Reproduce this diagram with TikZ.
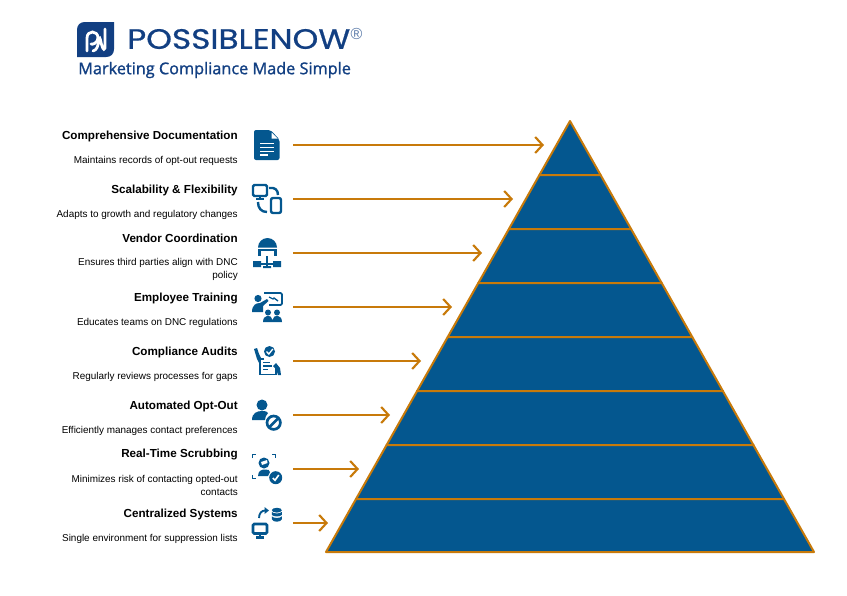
\documentclass[tikz,border=0pt]{standalone}
\usepackage{fontspec}
\setmainfont{Liberation Sans}
\newfontfamily\logofont[FakeBold=0.6]{Poppins}
\newfontfamily\tagfont[FakeBold=1.3]{Open Sans}
\usetikzlibrary{arrows.meta}
\definecolor{tierblue}{HTML}{04578F}
\definecolor{tierorange}{HTML}{C87A0A}
\definecolor{logoblue}{HTML}{123F82}
\tikzset{
  title/.style={anchor=east,inner sep=0pt,font=\fontsize{8.75}{11}\selectfont\bfseries},
  desc/.style={anchor=east,inner sep=0pt,align=right,font=\fontsize{7.45}{9.75}\selectfont},
  tier/.style={fill=tierblue,draw=tierorange,line width=1.5pt,line join=round},
  pointer/.style={draw=tierorange,line width=1.6pt,-{Straight Barb[length=5.5pt,width=12pt,line width=1.6pt]}},
  ink/.style={fill=tierblue,draw=none},
  inkline/.style={draw=tierblue,line width=1.8pt,fill=none},
  paper/.style={draw=white,line width=1.1pt}
}
\begin{document}
\begin{tikzpicture}[x=0.75pt,y=-0.75pt]
\useasboundingbox (0,0) rectangle (847,596);
% logo
\fill[logoblue] (77,30) .. controls (77,25) and (80,22) .. (85,22) -- (114,22) -- (114,49) .. controls (114,54) and (111,57) .. (106,57) -- (77,57) -- cycle;
\draw[white,line width=2.1pt,line cap=round] (87,51) -- (87,38) .. controls (87,30) and (98,30) .. (98,38) .. controls (98,43) and (92,45) .. (91,44);
\draw[white,line width=2.1pt,line cap=round] (93,51) .. controls (97,50) and (98,46) .. (99,40) .. controls (100,34) and (101,44) .. (102,46) .. controls (103,50) and (105,50) .. (105,48) -- (105,29);
\node[anchor=west,inner sep=0pt,text=logoblue,font=\logofont\fontsize{21}{21}\selectfont] (brand) at (127,39) {\scalebox{1.17}[1]{POSSIBLENOW}};
\node[inner sep=0pt,text=logoblue!70,font=\fontsize{12}{12}\selectfont] (reg) at (356.5,34) {®};
\node[anchor=west,inner sep=0pt,text=logoblue,font=\tagfont\fontsize{12.2}{12}\selectfont] (tagline) at (78,70) {Marketing Compliance Made Simple};
% pyramid
\draw[tier] (570,121) -- (600.6,175) -- (539.4,175) -- cycle;
\draw[tier] (539.4,175) -- (600.6,175) -- (631.1,229) -- (508.9,229) -- cycle;
\draw[tier] (508.9,229) -- (631.1,229) -- (661.7,283) -- (478.3,283) -- cycle;
\draw[tier] (478.3,283) -- (661.7,283) -- (692.3,337) -- (447.7,337) -- cycle;
\draw[tier] (447.7,337) -- (692.3,337) -- (722.9,391) -- (417.1,391) -- cycle;
\draw[tier] (417.1,391) -- (722.9,391) -- (753.4,445) -- (386.6,445) -- cycle;
\draw[tier] (386.6,445) -- (753.4,445) -- (784,499) -- (356,499) -- cycle;
\draw[tier] (356,499) -- (784,499) -- (814,552) -- (326,552) -- cycle;
% labels
\node[title] (docT) at (238,136.5) {Comprehensive Documentation};
\node[desc] (docD) at (238,161) {Maintains records of opt-out requests};
\node[title] (scaleT) at (238,190.5) {Scalability \& Flexibility};
\node[desc] (scaleD) at (238,215) {Adapts to growth and regulatory changes};
\node[title] (vendorT) at (238,238.5) {Vendor Coordination};
\node[desc] (vendorD) at (238,269) {Ensures third parties align with DNC\\policy};
\node[title] (trainT) at (238,298.5) {Employee Training};
\node[desc] (trainD) at (238,323) {Educates teams on DNC regulations};
\node[title] (auditT) at (238,352.5) {Compliance Audits};
\node[desc] (auditD) at (238,377) {Regularly reviews processes for gaps};
\node[title] (optT) at (238,406.5) {Automated Opt-Out};
\node[desc] (optD) at (238,431) {Efficiently manages contact preferences};
\node[title] (scrubT) at (238,454.5) {Real-Time Scrubbing};
\node[desc] (scrubD) at (238,485) {Minimizes risk of contacting opted-out\\contacts};
\node[title] (sysT) at (238,514.5) {Centralized Systems};
\node[desc] (sysD) at (238,539) {Single environment for suppression lists};
% arrows
\coordinate (docA) at (293,145);
\coordinate (docB) at (544,145);
\coordinate (scaleA) at (293,199);
\coordinate (scaleB) at (513,199);
\coordinate (vendorA) at (293,253);
\coordinate (vendorB) at (482,253);
\coordinate (trainA) at (293,307);
\coordinate (trainB) at (452,307);
\coordinate (auditA) at (293,361);
\coordinate (auditB) at (421,361);
\coordinate (optA) at (293,415);
\coordinate (optB) at (390,415);
\coordinate (scrubA) at (293,469);
\coordinate (scrubB) at (359,469);
\coordinate (sysA) at (293,523);
\coordinate (sysB) at (328,523);
\draw[pointer] (docA) -- (docB);
\draw[pointer] (scaleA) -- (scaleB);
\draw[pointer] (vendorA) -- (vendorB);
\draw[pointer] (trainA) -- (trainB);
\draw[pointer] (auditA) -- (auditB);
\draw[pointer] (optA) -- (optB);
\draw[pointer] (scrubA) -- (scrubB);
\draw[pointer] (sysA) -- (sysB);
% document icon
\fill[ink,rounded corners=1.5pt] (254,130) -- (270.5,130) -- (279.5,139.5) -- (279.5,160) -- (254,160) -- cycle;
\fill[white] (271.5,132.5) -- (271.5,138.5) -- (277.5,138.5) -- cycle;
\draw[paper] (260,143.5) -- (274,143.5) (260,147.5) -- (274,147.5) (260,151.5) -- (274,151.5) (260,155) -- (268,155);
% devices icon
\draw[inkline,rounded corners=1pt] (253,185) rectangle (267,196);
\draw[inkline] (260,196) -- (260,199) (256,199) -- (264,199);
\draw[inkline,rounded corners=1.5pt] (271,198) rectangle (281,213);
\draw[inkline] (269,188) .. controls (275,187) and (278,190) .. (278,195);
\draw[inkline] (258,202) .. controls (258,208) and (261,212) .. (267,212);
% vendor icon
\fill[ink] (258,247.5) arc[start angle=180,end angle=360,radius=9.5] -- cycle;
\draw[inkline] (259.5,256) -- (259.5,250) -- (275.5,250) -- (275.5,256);
\fill[ink] (253,261) rectangle (261,267) (273,261) rectangle (281,267) (263,266) rectangle (271,268);
\draw[inkline] (267,256) -- (267,266) (261,264) -- (273,264);
% training icon
\draw[tierblue,line width=1.4pt,rounded corners=1pt] (264,293) -- (282,293) -- (282,305) -- (269,305);
\draw[tierblue,line width=1pt] (269,297) -- (273,299) -- (274,298) -- (278,301);
\fill[ink] (258,298.5) circle (3.6);
\fill[ink] (252,312) .. controls (252,305) and (256,303) .. (260,303) -- (267,299) -- (268.5,301) -- (263,306) -- (263,312) -- cycle;
\fill[ink] (268,312.5) circle (3) (277,312.5) circle (3);
\fill[ink] (263,322) .. controls (263,314) and (272,314) .. (272.5,320) .. controls (273,314) and (282,314) .. (282,322) -- cycle;
% audit icon
\fill[ink] (269.5,351.5) circle (5.5);
\draw[white,line width=1pt] (266.5,351.5) -- (268.8,354) -- (272.8,349);
\draw[inkline,line width=1.4pt] (264,359) -- (260,359) -- (260,374.5) -- (276,374.5) -- (276,367);
\draw[tierblue,line width=1.1pt] (263,362.5) -- (270,362.5) (263,366) -- (272,366) (263,369.5) -- (268,369.5);
\fill[ink] (254,349) -- (257,348) -- (259,354) -- (261,358) -- (259,363) -- (257,359) -- cycle;
\fill[ink] (276,363) -- (280,368) -- (281,375) -- (278,375) -- (276,369) -- (273,366) -- cycle;
% opt-out icon
\fill[ink] (262,405) circle (5.5);
\fill[ink] (252,420) .. controls (252,413) and (257,411) .. (262,411) .. controls (266,411) and (268,412) .. (268,413) .. controls (266,415) and (265,418) .. (265,420) -- cycle;
\draw[inkline,line width=2pt] (273.7,422.7) circle (6.7);
\draw[inkline,line width=2pt] (269,427.4) -- (278.4,418);
% scrubbing icon
\draw[inkline,line width=1.4pt] (252.5,458) -- (252.5,454.5) -- (256,454.5) (272,454.5) -- (275.5,454.5) -- (275.5,458) (252.5,475) -- (252.5,478.5) -- (256,478.5);
\fill[ink] (264,463) circle (5.5);
\fill[white] (261,462) -- (267,460) -- (267.5,463) -- (262,465) -- cycle;
\fill[ink] (258,476) .. controls (258,470.5) and (262,469.5) .. (265,469.5) .. controls (268,469.5) and (270,470) .. (270,472) -- (268,476) -- cycle;
\fill[ink] (275.7,477.7) circle (6.5);
\draw[white,line width=1.2pt] (272.8,478) -- (275,480.3) -- (278.8,475);
% systems icon
\draw[inkline,line width=1.4pt] (259,518) .. controls (259,513) and (262,510.5) .. (265,510.5);
\fill[ink] (264.5,507) -- (269,510.5) -- (264.5,514) -- cycle;
\fill[ink] (276.8,510.2) ellipse (5 and 2.4);
\fill[ink] (271.8,511.8) .. controls (273,514) and (280.6,514) .. (281.8,511.8) -- (281.8,514.8) .. controls (280.6,517) and (273,517) .. (271.8,514.8) -- cycle;
\fill[ink] (271.8,516.3) .. controls (273,518.5) and (280.6,518.5) .. (281.8,516.3) -- (281.8,519.3) .. controls (280.6,522.5) and (273,522.5) .. (271.8,519.3) -- cycle;
\draw[inkline,line width=2pt,rounded corners=1pt] (253,524) rectangle (267,533.5);
\draw[inkline,line width=1.6pt] (260,534) -- (260,537.5) (256,537.5) -- (264,537.5);
\end{tikzpicture}
\end{document}
